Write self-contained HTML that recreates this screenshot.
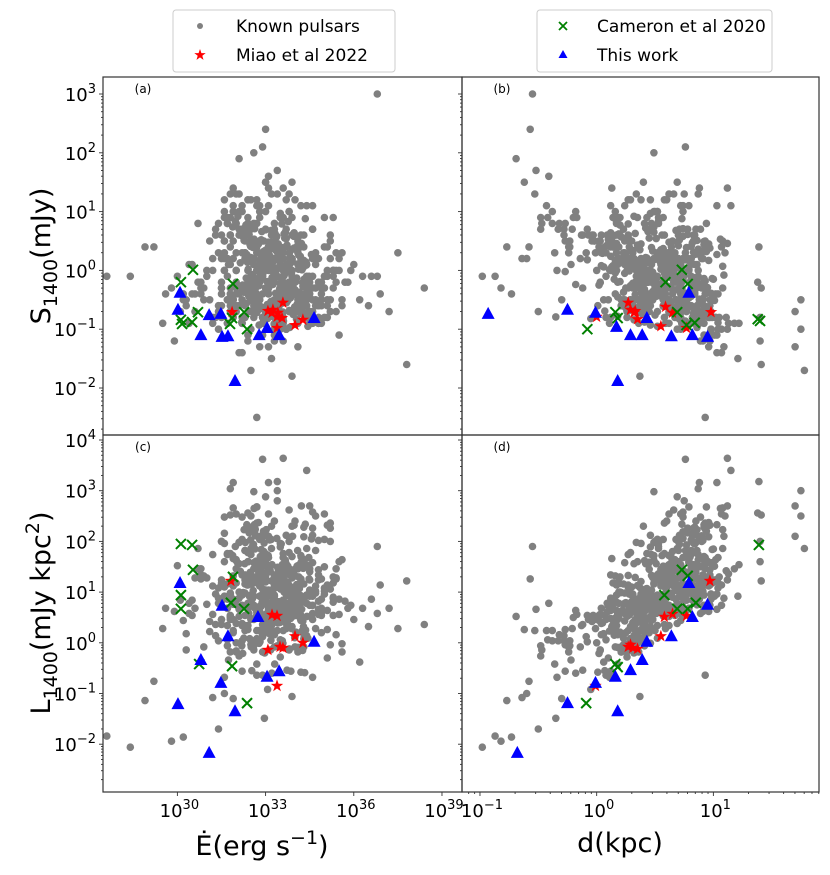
<!DOCTYPE html>
<html><head><meta charset="utf-8">
<style>
html,body{margin:0;padding:0;background:#fff;}
svg{display:block;font-family:"DejaVu Sans","Liberation Sans",sans-serif;}
</style></head>
<body>
<svg id="chart" width="830" height="875" viewBox="0 0 830 875" xmlns="http://www.w3.org/2000/svg">
  <g id="marks"></g>
  <g id="frames"></g>
  <g id="axes"></g>
  <text x="143" y="93" font-size="12" text-anchor="middle">(a)</text>
  <text x="502" y="93" font-size="12" text-anchor="middle">(b)</text>
  <text x="143" y="451" font-size="12" text-anchor="middle">(c)</text>
  <text x="502" y="451" font-size="12" text-anchor="middle">(d)</text>
  <text transform="translate(50,256) rotate(-90)" font-size="27" text-anchor="middle">S<tspan font-size="19" dy="7">1400</tspan><tspan dy="-7">(mJy)</tspan></text>
  <text transform="translate(50,613) rotate(-90)" font-size="27" text-anchor="middle">L<tspan font-size="19" dy="7">1400</tspan><tspan dy="-7">(mJy kpc</tspan><tspan font-size="19" dy="-11">2</tspan><tspan dy="11">)</tspan></text>
  <text x="262" y="855" font-size="27" text-anchor="middle">Ė(erg s<tspan font-size="19" dy="-11">−1</tspan><tspan dy="11">)</tspan></text>
  <text x="620" y="852" font-size="27" text-anchor="middle">d(kpc)</text>
  <g>
    <rect x="173" y="10" width="222" height="62" rx="3" fill="#fff" stroke="#ccc" stroke-width="1"/>
    <circle cx="200" cy="26" r="3" fill="#808080"/>
    <text x="236" y="32" font-size="17">Known pulsars</text>
    <path id="legstar" d="" fill="#ff0000"/>
    <text x="236" y="61" font-size="17">Miao et al 2022</text>
  </g>
  <g>
    <rect x="537" y="10" width="235" height="62" rx="3" fill="#fff" stroke="#ccc" stroke-width="1"/>
    <path d="M559,22 L567,30 M567,22 L559,30" stroke="#008000" stroke-width="1.8"/>
    <text x="597" y="32" font-size="17">Cameron et al 2020</text>
    <path d="M563,50 L567.5,58 L558.5,58 Z" fill="#0000ff"/>
    <text x="597" y="61" font-size="17">This work</text>
  </g>
</svg>
<script>
// ---- Known pulsars (log10 values), set 1 ----
const knownLogEdot = [
33.1,32.6,33.8,32.2,34.0,33.4,31.9,32.9,33.6,34.3,
32.4,33.0,33.9,32.7,31.7,34.6,33.2,32.1,33.5,34.1,
32.8,33.3,31.5,34.8,32.5,33.7,32.0,33.9,35.2,32.3,
33.5,32.9,34.2,31.8,33.1,32.6,34.5,33.0,30.9,32.8,
34.0,33.6,32.4,35.5,33.3,31.2,32.7,34.4,33.8,32.2,
33.2,34.7,32.9,30.5,33.4,32.5,35.0,33.7,31.6,34.2,
32.0,33.5,33.9,32.8,36.0,31.9,33.1,34.9,32.4,33.6,
30.2,32.7,34.1,33.3,32.2,35.8,33.0,31.4,34.6,32.9,
33.8,32.3,36.5,33.2,30.8,34.3,32.6,33.5,31.1,34.0,
32.5,33.7,29.8,34.8,33.0,32.1,35.3,33.4,31.7,32.8,
34.4,33.1,32.4,37.2,33.6,30.4,32.9,34.1,33.3,31.5,
32.7,35.6,33.9,32.0,33.2,34.5,31.3,33.0,36.8,32.6,
33.5,31.8,34.2,32.3,29.2,33.7,32.8,35.1,33.1,30.7,
34.0,32.5,33.4,31.0,36.2,32.9,33.8,31.9,34.7,32.2,
33.0,34.3,30.3,32.6,33.6,35.9,32.1,33.3,31.6,34.9,
28.4,33.2,32.4,34.6,33.9,31.2,32.7,37.8,33.5,32.0,
33.7,30.6,34.1,32.8,33.1,31.8,35.4,32.5,33.4,29.5,
32.3,34.4,33.0,31.4,36.6,32.9,33.6,30.1,34.2,32.6,
33.3,32.1,35.0,33.8,31.7,32.4,34.5,33.1,30.9,33.9,
27.6,33.4,32.8,34.0,31.3,33.2,35.7,32.2,33.7,31.0,
34.3,32.5,33.6,30.4,32.9,38.4,33.0,31.9,34.8,32.7,
33.1,31.5,34.6,32.3,33.8,29.9,32.0,35.2,33.4,31.2,
32.6,33.9,31.7,34.2,33.3,32.8,36.3,30.8,33.0,34.5,
33.6,32.2,30.2,33.1,34.7,32.9,31.4,33.7,35.5,32.4,
28.9,34.1,33.2,32.6,31.8,33.9,32.1,34.4,30.6,33.5,
32.8,33.0,34.9,31.6,33.4,32.3,36.9,33.8,31.1,32.7,
34.2,32.0,33.3,30.0,33.7,32.5,34.6,31.9,33.1,35.1,
32.9,31.3,33.6,34.0,32.4,29.6,33.2,32.7,34.3,31.7,
33.4,32.1,35.6,33.0,30.5,34.5,32.6,33.8,31.4,32.9,
33.1,34.8,32.3,31.8,33.5,37.5,32.8,30.3,33.9,32.5,
36.8,33.0,31.2,34.1,32.7,33.6,30.8,32.2,33.3,34.6,
32.4,33.7,31.5,32.9,34.2,33.1,35.3,32.0,30.7,33.4];
const knownLogS = [
-0.3,-0.6,0.1,-0.8,-0.2,0.4,-0.5,-0.9,0.2,-0.4,
0.0,-0.7,-0.1,0.3,-0.9,-0.5,0.6,-0.3,-0.8,0.1,
-0.5,0.2,-0.2,-0.6,0.5,-1.0,-0.4,0.0,-0.7,0.3,
-0.9,-0.1,0.4,-0.6,-0.3,0.8,-0.8,0.1,-0.5,-0.2,
0.6,-0.4,-1.1,0.0,-0.7,0.2,-0.5,-0.3,1.0,-0.9,
-0.2,-0.6,0.3,-0.4,-0.8,0.5,-0.1,-1.0,0.0,0.2,
-0.7,0.9,-0.3,-0.5,0.1,-0.8,0.4,-0.6,-0.2,-1.2,
-0.4,0.0,-0.9,0.6,-0.5,-0.2,-0.7,0.3,-0.1,-0.4,
0.2,-0.8,-0.6,1.3,-0.3,-0.5,0.1,-1.0,0.5,-0.7,
-0.1,0.4,-0.3,-0.9,0.7,-0.6,0.0,-0.4,0.2,-1.3,
-0.5,-0.2,0.8,-0.7,-0.4,0.1,-0.8,0.5,-1.1,-0.3,
0.0,-0.6,-0.2,0.3,-1.5,-0.4,0.6,-0.7,-0.1,0.2,
-0.8,0.1,-0.5,-0.3,0.4,-1.0,1.1,-0.6,0.0,-0.2,
-0.4,0.7,-0.9,-0.1,-0.5,0.3,-0.7,0.2,-0.3,-1.4,
1.5,-0.2,-0.6,0.5,-0.8,0.0,-0.4,-1.2,0.3,-0.5,
-0.1,-0.7,0.9,-0.3,0.2,-0.9,-0.5,-1.6,0.1,-0.6,
0.4,-0.4,-1.3,0.0,-0.8,0.6,-0.2,-0.5,1.7,-0.9,
-0.6,0.1,-0.3,0.8,-0.1,-1.1,0.3,-0.7,-0.4,0.5,
-0.2,1.9,-0.8,0.0,-0.5,0.2,-0.9,0.4,-0.3,-1.8,
-0.1,-0.6,0.1,-0.4,0.7,-0.7,-0.2,0.3,-1.0,0.0,
-0.5,0.5,-0.1,-0.9,2.1,-0.3,0.2,-0.6,-0.8,1.2,
0.1,-0.4,-0.7,0.6,-0.2,-1.2,0.0,-0.5,0.4,-0.8,
-0.3,0.2,0.9,-0.6,-1.0,0.5,-0.1,-0.4,0.3,-0.7,
0.0,-0.9,-0.5,1.4,-0.3,0.2,-0.6,0.7,-1.1,-0.2,
0.4,-0.5,0.1,-0.8,-0.3,0.6,-1.4,-0.1,-0.7,0.3,
-0.6,2.4,-0.2,0.0,-0.9,0.5,-0.4,0.1,-0.5,-2.5,
-0.7,-0.3,0.8,-0.1,-0.5,-1.0,0.2,1.0,-0.4,0.0,
0.3,-0.8,-0.2,0.6,-1.2,-0.4,0.0,-0.6,0.4,-0.9,
-0.1,0.7,-0.5,-0.3,0.1,-0.7,2.0,-0.2,-1.0,0.5,
1.6,-0.6,0.2,-0.4,-0.8,0.3,-0.1,-0.5,0.9,-1.7,
3.0,-0.3,0.0,-0.7,0.4,-0.9,-0.2,0.6,-0.5,1.1,
-0.4,0.1,-0.8,0.2,-0.6,-1.3,0.0,-0.2,0.8,-0.5];
const knownLogD = [
0.53,0.27,0.84,0.12,0.58,-0.23,0.91,0.36,0.74,1.02,
0.17,0.63,0.42,-0.36,0.79,0.48,0.04,0.93,0.26,0.68,
0.61,-0.14,0.33,0.97,-0.27,0.72,0.39,0.16,0.88,0.52,
0.76,0.45,0.07,0.57,0.31,-0.47,0.86,0.55,0.21,0.66,
-0.03,0.49,0.92,0.28,0.73,-0.64,0.37,1.08,-0.18,0.62,
0.43,0.81,0.23,0.47,0.99,0.13,0.59,0.69,-0.34,0.32,
0.94,-0.42,0.54,0.71,0.18,0.83,0.02,0.64,1.38,0.89,
-0.73,0.34,0.77,0.09,0.61,0.44,0.87,0.24,0.51,1.04,
0.19,0.67,0.46,-0.53,0.82,0.29,0.56,1.12,-0.04,0.41,
0.63,0.14,-0.82,0.86,-0.08,0.74,0.27,0.52,0.78,0.96,
0.32,0.47,-0.27,0.69,0.93,0.24,0.58,0.03,1.01,0.38,
0.79,0.21,0.44,-0.24,1.21,0.57,-0.12,0.87,0.34,0.49,
0.72,0.41,0.88,0.27,-0.58,0.98,-0.43,0.62,0.17,0.83,
0.48,-0.33,0.76,0.43,0.06,0.64,0.91,0.28,0.71,1.07,
-0.62,0.68,0.23,-0.02,0.82,0.37,0.54,0.97,0.31,0.57,
-0.98,0.52,-0.17,0.94,0.38,0.73,0.29,1.41,0.61,0.22,
0.36,0.84,1.09,0.46,0.88,-0.07,0.18,0.72,-0.52,0.59,
0.92,0.34,0.63,-0.38,0.48,1.03,0.08,0.77,0.42,-0.23,
0.57,-0.69,0.91,0.26,0.68,0.53,1.18,0.19,0.81,0.37,
-0.87,0.42,0.72,0.16,-0.28,0.87,0.51,0.04,0.98,0.64,
0.68,-0.02,0.47,0.84,0.76,0.33,0.59,0.86,1.02,0.58,
0.28,0.79,0.64,-0.13,0.41,0.91,0.73,0.23,1.39,0.96,
0.52,0.18,-0.48,0.69,1.07,0.02,0.39,0.83,0.62,0.87,
0.12,0.92,0.47,0.88,0.64,0.29,0.74,-0.21,0.98,0.43,
-0.77,0.58,0.33,0.86,1.41,-0.04,1.03,0.52,0.69,0.17,
0.42,-0.57,0.73,0.58,1.13,0.24,0.77,0.47,0.36,0.93,
0.97,0.53,-0.32,0.81,0.62,1.75,0.27,-0.38,0.72,0.13,
-0.09,0.88,0.43,0.17,1.4,0.54,0.61,0.31,-0.24,0.79,
0.73,-0.48,0.24,0.91,0.37,1.7,0.49,0.03,1.04,0.28,
-0.41,0.63,0.81,0.46,1.11,-0.01,0.67,0.34,0.19,1.78,
-0.55,0.38,0.87,0.62,0.12,1.22,0.83,-0.28,0.48,0.74,
0.59,0.32,1.4,0.68,0.01,1.7,0.44,0.92,0.53,1.75];

// ---- Known pulsars, set 2 (dense core) ----
const knownLogEdot2 = [
32.45,33.12,33.78,32.91,34.23,33.54,32.67,33.36,34.05,32.83,
33.27,32.58,33.91,34.41,32.36,33.05,33.63,32.74,34.12,33.48,
32.19,33.83,33.21,32.62,34.36,33.69,32.97,33.42,31.88,34.02,
33.15,32.51,33.97,32.88,33.31,34.18,32.27,33.74,33.02,32.69,
34.29,33.38,32.43,33.86,32.95,33.59,32.14,34.47,33.25,32.78,
33.66,32.39,34.08,33.19,32.85,33.51,34.33,32.57,33.93,33.08,
32.72,33.44,31.97,34.15,33.29,32.61,33.81,33.01,34.26,32.49,
33.57,32.93,33.35,32.24,34.04,33.72,32.81,33.47,32.06,33.89,
34.38,33.17,32.66,33.62,32.98,34.11,33.33,32.34,33.76,32.87,
33.04,34.21,32.53,33.41,33.95,32.76,34.44,33.23,32.63,33.68,
32.31,33.85,33.11,32.96,34.07,33.49,32.44,33.71,33.26,32.82,
33.99,32.59,34.31,33.14,32.71,33.55,32.92,34.19,33.37,32.22,
33.79,33.06,32.47,34.03,33.61,32.86,33.32,32.68,34.24,33.45,
32.55,33.92,33.18,32.38,33.73,34.35,32.99,33.53,32.75,33.09,
34.14,32.41,33.65,33.28,32.89,34.48,33.39,32.64,33.87,33.01,
32.77,33.46,34.01,32.29,33.58,33.13,32.94,34.27,33.82,32.52,
33.34,32.84,33.97,33.22,32.46,34.09,33.64,32.73,33.43,32.97,
31.74,33.08,34.56,32.35,33.77,33.16,32.58,33.94,34.22,32.81,
33.52,32.65,33.25,34.39,32.9,33.7,32.48,33.35,34.06,33.0,
32.6,33.88,33.2,32.79,34.3,33.47,32.37,33.63,33.11,32.95,
33.4,32.7,34.13,33.57,32.33,33.84,33.03,34.42,32.85,33.29,
32.54,33.73,33.15,32.9,34.0,33.5,32.64,33.81,33.24,32.42,
33.96,32.78,33.36,34.17,32.99,33.6,32.5,33.07,34.28,33.43,
32.82,33.67,32.26,33.9,33.19,34.1,32.7,33.55,33.31,32.88,
31.6,31.9,32.1,35.0,34.7,31.4,35.3,31.8,34.9,32.0];
const knownLogS2 = [
-0.12,0.34,-0.47,0.08,-0.66,0.21,-0.29,0.56,-0.83,-0.05,
0.43,-0.38,0.15,-0.72,0.27,-0.19,0.62,-0.54,0.02,-0.31,
-0.88,0.11,-0.24,0.49,-0.41,0.03,-0.63,0.29,0.74,-0.16,
0.19,-0.52,0.38,-0.09,-0.77,0.24,0.51,-0.35,0.07,-0.61,
-0.26,0.58,-0.44,-0.02,0.31,-0.71,0.13,-0.18,0.46,-0.93,
0.05,-0.33,-0.57,0.68,-0.14,0.22,-0.81,0.39,-0.27,0.11,
-0.49,0.17,0.84,-0.37,-0.06,0.53,-0.68,0.26,-0.21,0.41,
-0.74,0.32,-0.11,0.57,-0.42,-0.03,0.18,-0.59,0.92,-0.23,
0.14,-0.64,0.47,-0.28,0.06,-0.85,0.35,-0.13,-0.51,0.66,
-0.36,0.09,-0.69,0.23,-0.17,0.45,-0.95,0.12,0.71,-0.32,
0.28,-0.46,0.04,-0.79,0.37,-0.22,0.61,-0.55,0.16,-0.08,
-0.62,0.52,-0.15,0.25,-0.43,0.79,-0.04,-0.73,0.33,-0.25,
0.07,-0.58,0.44,-0.19,-0.86,0.19,0.63,-0.39,0.01,-0.67,
-0.07,0.36,-0.53,0.14,-0.3,0.88,-0.76,0.27,-0.2,0.48,
-0.45,0.02,0.55,-0.65,0.21,-0.1,-0.89,0.4,-0.34,0.13,
0.3,-0.6,-0.16,0.72,-0.48,0.06,0.5,-0.27,-0.97,0.18,
-0.39,0.26,0.64,-0.12,-0.7,0.42,-0.05,-0.5,0.35,-0.84,
0.1,-0.36,0.27,-0.56,0.83,-0.2,0.15,-0.75,0.46,-0.01,
-0.57,0.38,-0.24,0.09,-0.8,0.54,-0.31,0.2,-0.13,0.69,
-0.44,-0.04,0.48,-0.66,0.17,-0.35,0.6,-0.09,-0.58,0.31,
0.04,-0.72,0.26,-0.18,0.77,-0.47,0.12,-0.29,0.52,-0.91,
-0.21,0.43,-0.63,0.08,-0.33,0.97,-0.15,0.29,-0.52,0.16,
0.58,-0.26,0.0,-0.69,0.34,-0.4,0.22,-0.82,0.05,0.45,
-0.14,0.65,-0.37,0.18,-0.61,0.11,-0.23,0.39,-0.78,0.25,
0.2,-0.5,0.6,-0.3,0.3,-0.7,-0.1,0.9,-0.4,0.0];
const knownLogD2 = [
0.52,0.31,0.78,0.14,0.66,0.43,0.95,0.27,0.71,0.58,
0.09,0.84,0.36,0.62,1.03,0.47,0.19,0.88,0.55,0.73,
0.41,0.67,-0.18,0.92,0.33,0.59,0.76,0.05,0.49,0.81,
0.63,0.22,0.97,0.44,0.69,0.12,0.86,0.38,1.08,0.57,
0.29,0.74,0.51,-0.27,0.83,0.35,0.64,0.93,0.17,0.46,
0.79,0.54,0.24,0.68,0.99,0.42,0.11,0.77,0.61,0.34,
0.88,0.16,0.53,0.72,0.45,1.06,0.28,0.65,0.03,0.81,
0.39,0.94,0.6,0.21,0.75,0.48,-0.08,0.87,0.32,0.56,
0.7,0.25,0.82,0.5,0.13,0.9,0.37,0.67,1.01,0.44,
0.58,0.8,0.07,0.63,0.35,0.96,0.52,0.19,0.74,0.41,
0.85,0.47,0.69,-0.35,0.57,0.31,0.78,0.6,0.23,1.09,
0.36,0.71,0.15,0.89,0.54,0.27,0.66,0.83,0.48,0.02,
0.64,0.4,0.92,0.2,0.76,0.55,0.33,0.98,0.11,0.7,
0.47,0.87,0.29,0.59,-0.12,0.73,0.5,0.84,0.38,0.62,
0.18,0.79,0.45,0.95,0.3,0.68,1.04,0.14,0.57,0.81,
0.53,0.26,0.74,0.42,0.91,0.06,0.65,0.35,0.86,0.49,
0.77,0.6,0.12,0.83,0.39,0.7,0.24,0.97,0.55,0.32,
-0.22,0.48,0.89,0.63,0.17,0.8,0.44,0.67,1.12,0.28,
0.59,0.93,0.37,0.72,0.08,0.51,0.85,0.22,0.64,0.45,
0.81,0.16,0.69,0.34,0.96,0.58,0.27,0.75,0.43,0.9,
0.31,0.66,0.52,0.86,0.2,0.79,0.4,0.61,0.1,0.73,
0.57,0.35,0.82,0.04,0.68,0.46,1.0,0.25,0.77,0.54,
0.14,0.88,0.41,0.63,0.3,0.84,0.56,-0.05,0.71,0.38,
0.92,0.49,0.23,0.76,0.6,0.33,0.87,0.47,0.18,0.65,
-0.6,-0.3,0.2,0.9,1.1,-0.5,0.7,-0.2,0.5,0.0];

// ---- Known pulsars, set 3 (outer core) ----
const knownLogEdot3 = [
31.6,34.8,32.2,35.1,31.9,34.6,32.5,33.3,35.4,31.8,
34.9,32.0,33.8,31.7,35.2,32.8,34.4,31.5,33.6,35.0,
32.3,34.7,31.9,33.1,35.3,32.6,34.2,31.6,33.9,35.6,
32.1,34.5,31.8,33.4,35.1,32.4,34.8,31.7,33.0,34.3,
31.5,35.0,32.7,34.1,31.9,33.7,35.4,32.2,34.6,31.6,
33.2,34.9,32.0,35.2,31.8,33.5,34.4,32.5,35.5,31.7,
34.0,32.9,31.6,35.1,33.8,32.3,34.7,31.9,33.3,35.3,
32.6,34.2,31.5,33.6,35.0,32.1,34.5,31.8,33.0,34.8,
31.7,35.2,32.4,34.3,31.6,33.9,35.4,32.8,34.1,31.9,
33.4,34.6,32.2,35.1,31.8,33.1,34.9,32.7,35.3,31.5];
const knownLogS3 = [
0.9,-0.2,1.1,0.4,-0.5,0.7,1.2,-0.8,0.3,0.6,
-0.9,0.8,1.3,-0.1,0.5,1.0,-0.6,0.2,1.4,-0.3,
0.7,0.1,-0.7,1.1,0.9,-0.4,0.6,1.2,-0.2,0.3,
1.0,-0.8,0.4,1.3,-0.1,0.8,0.2,-0.5,1.5,0.6,
-0.3,0.9,1.1,-0.6,0.5,1.2,0.0,0.7,-0.9,1.0,
0.4,-0.2,1.3,0.6,-0.7,0.9,1.1,-0.4,0.2,0.8,
1.2,-0.1,0.5,-0.8,1.0,0.3,-0.5,1.4,0.7,-0.3,
0.1,1.1,-0.6,0.9,0.4,1.3,-0.2,0.6,1.0,-0.9,
0.8,0.2,1.2,-0.4,0.5,1.5,-0.7,0.9,0.3,1.1,
-0.1,0.7,1.0,-0.5,1.3,0.4,-0.3,0.8,0.0,0.6];
const knownLogD3 = [
0.35,0.82,0.12,0.96,0.48,0.71,0.27,1.05,0.58,0.19,
0.88,0.41,0.66,0.08,0.93,0.52,0.77,0.31,1.12,0.63,
0.23,0.86,0.45,0.72,0.14,0.99,0.56,0.38,0.81,0.67,
0.49,1.02,0.28,0.75,0.6,0.17,0.91,0.42,0.69,0.84,
0.33,0.57,0.79,0.21,1.08,0.46,0.64,0.89,0.11,0.74,
0.95,0.37,0.62,0.83,0.26,0.53,1.15,0.44,0.7,0.18,
0.6,0.87,0.3,0.97,0.5,0.76,0.39,0.13,0.85,0.55,
0.68,0.24,0.92,0.43,1.07,0.34,0.8,0.58,0.16,0.73,
0.47,0.9,0.29,0.65,0.83,0.4,0.98,0.2,0.61,1.03,
0.36,0.78,0.52,0.1,0.87,0.64,0.25,0.94,0.45,0.7];

// ---- Panel (a): log Edot vs log S ----
const thisWorkA_E = [30.09,30.02,31.08,31.48,30.80,31.52,31.72,31.96,32.78,33.05,33.46,34.65];
const thisWorkA_S = [-0.38,-0.67,-0.76,-0.74,-1.10,-1.13,-1.12,-1.88,-1.10,-0.98,-1.10,-0.81];
const cameronA_E = [30.53,30.12,31.89,30.70,32.27,30.12,30.16,30.50,31.86,31.79,32.37];
const cameronA_S = [0.01,-0.20,-0.23,-0.71,-0.71,-0.84,-0.91,-0.88,-0.81,-0.91,-1.00];
const miaoA_E = [31.86,33.08,33.25,33.59,33.42,33.56,33.39,33.22,34.27,34.00,33.39];
const miaoA_S = [-0.71,-0.69,-0.67,-0.55,-0.72,-0.81,-0.79,-0.72,-0.84,-0.93,-0.98];
// ---- Panel (b): log d vs log S ----
const thisWorkB_D = [-0.25,-0.01,0.17,0.29,0.39,0.43,0.64,0.79,0.82,0.95,0.18,-0.93];
const thisWorkB_S = [-0.67,-0.72,-0.96,-1.10,-1.10,-0.81,-1.12,-0.38,-1.10,-1.13,-1.88,-0.74];
const cameronB_D = [0.73,0.59,0.78,0.16,0.18,0.69,-0.08,0.77,0.84,1.38,1.40];
const cameronB_S = [0.01,-0.20,-0.23,-0.71,-0.81,-0.71,-1.00,-0.93,-0.89,-0.83,-0.86];
const miaoB_D = [0.27,0.29,0.33,0.35,0.00,0.59,0.65,0.55,0.77,0.98,0.32];
const miaoB_S = [-0.55,-0.67,-0.69,-0.83,-0.79,-0.62,-0.72,-0.95,-0.98,-0.71,-0.72];
// ---- Panel (c): log Edot vs log L ----
const thisWorkC_E = [30.09,31.52,32.74,31.72,34.65,30.80,33.46,33.05,31.48,30.02,31.96,31.08];
const thisWorkC_L = [1.18,0.73,0.51,0.13,0.02,-0.34,-0.56,-0.67,-0.79,-1.21,-1.35,-2.17];
const cameronC_E = [30.12,30.50,30.53,31.89,30.12,30.12,31.82,32.27,30.74,31.86,32.37];
const cameronC_L = [1.95,1.93,1.44,1.30,0.94,0.67,0.79,0.67,-0.42,-0.46,-1.19];
const miaoC_E = [31.82,33.22,33.39,34.00,34.27,33.49,33.08,33.59,33.39];
const miaoC_L = [1.22,0.55,0.53,0.13,0.00,-0.08,-0.14,-0.10,-0.85];
// ---- Panel (d): log d vs log L ----
const thisWorkD_D = [0.79,0.95,0.82,0.64,0.43,0.39,0.29,0.16,-0.01,-0.25,0.18,-0.68];
const thisWorkD_L = [1.18,0.75,0.51,0.13,0.02,-0.34,-0.54,-0.67,-0.79,-1.19,-1.35,-2.17];
const cameronD_D = [0.73,0.78,0.58,0.69,0.78,0.85,0.16,0.18,-0.09,1.39];
const cameronD_L = [1.44,1.32,0.94,0.67,0.67,0.79,-0.42,-0.48,-1.19,1.93];
const miaoD_D = [0.97,0.58,0.65,0.77,0.55,0.27,0.31,0.35,0.29,-0.01];
const miaoD_L = [1.22,0.51,0.57,0.53,0.13,-0.08,-0.10,-0.12,-0.04,-0.85];

// tick labels
const edotTickExps = [30,33,36,39];
const distTickExps = [-1,0,1];
const sTickExps = [-2,-1,0,1,2,3];
const lTickExps = [-2,-1,0,1,2,3,4];

const NS = 'http://www.w3.org/2000/svg';
const L = {x0:103, x1:462, x2:819, yT:77, yM:435, yB:792};
const xE = v => 103 + (v - 27.47) * 29.4;
const xD = v => 462 + (v + 1.154) * 116.7;
const yS = v => 94 + (3 - v) * 58.8;
const yL = v => 440 + (4 - v) * 50.7;

const marks = document.getElementById('marks');
const axes = document.getElementById('axes');
const frames = document.getElementById('frames');

function el(tag, attrs, parent){
  const e = document.createElementNS(NS, tag);
  for (const k in attrs) e.setAttribute(k, attrs[k]);
  parent.appendChild(e);
  return e;
}
function starPath(cx, cy, R){
  const r = R * 0.4; let d = '';
  for (let i = 0; i < 10; i++){
    const a = -Math.PI/2 + i*Math.PI/5, rr = i%2 ? r : R;
    d += (i ? 'L' : 'M') + (cx + rr*Math.cos(a)).toFixed(1) + ',' + (cy + rr*Math.sin(a)).toFixed(1);
  }
  return d + 'Z';
}
document.getElementById('legstar').setAttribute('d', starPath(200, 55, 6));

const panels = [
  {id:'a', clip:[L.x0,L.yT,L.x1-L.x0,L.yM-L.yT]},
  {id:'b', clip:[L.x1,L.yT,L.x2-L.x1,L.yM-L.yT]},
  {id:'c', clip:[L.x0,L.yM,L.x1-L.x0,L.yB-L.yM]},
  {id:'d', clip:[L.x1,L.yM,L.x2-L.x1,L.yB-L.yM]}
];
const defs = el('defs', {}, marks);
const groups = {};
panels.forEach(p => {
  const cp = el('clipPath', {id:'clip-'+p.id}, defs);
  el('rect', {x:p.clip[0], y:p.clip[1], width:p.clip[2], height:p.clip[3]}, cp);
  const g = el('g', {'clip-path':'url(#clip-'+p.id+')'}, marks);
  
  
  groups[p.id] = g;
  const fr = el('rect', {x:p.clip[0], y:p.clip[1], width:p.clip[2], height:p.clip[3], fill:'none', stroke:'#333', 'stroke-width':1.2}, frames);
  
  
});

function drawKnown(E, S, D){
  for (let i = 0; i < E.length; i++){
    const logL = S[i] + 2*D[i];
    const pts = [['a', xE(E[i]), yS(S[i])], ['b', xD(D[i]), yS(S[i])],
                 ['c', xE(E[i]), yL(logL)], ['d', xD(D[i]), yL(logL)]];
    pts.forEach(p => {
      const c = el('circle', {cx:p[1].toFixed(1), cy:p[2].toFixed(1), r:3.8, fill:'#808080'}, groups[p[0]]);
      
      
    });
  }
}
drawKnown(knownLogEdot, knownLogS, knownLogD);
drawKnown(knownLogEdot2, knownLogS2, knownLogD2);
drawKnown(knownLogEdot3, knownLogS3, knownLogD3);

function drawMiao(g, xs, ys, fx, fy){
  for (let i = 0; i < xs.length; i++){
    const s = el('path', {d:starPath(fx(xs[i]), fy(ys[i]), 6.5), fill:'#ff0000'}, g);
    
    
  }
}
function drawCameron(g, xs, ys, fx, fy){
  for (let i = 0; i < xs.length; i++){
    const x = fx(xs[i]), y = fy(ys[i]), h = 5;
    const p = el('path', {d:`M${x-h},${y-h}L${x+h},${y+h}M${x+h},${y-h}L${x-h},${y+h}`, stroke:'#008000', 'stroke-width':2, fill:'none'}, g);
    
    
  }
}
function drawThis(g, xs, ys, fx, fy){
  for (let i = 0; i < xs.length; i++){
    const x = fx(xs[i]), y = fy(ys[i]);
    const p = el('path', {d:`M${x},${y-7}L${x+6.5},${y+5}L${x-6.5},${y+5}Z`, fill:'#0000ff'}, g);
    
    
  }
}
drawMiao(groups.a, miaoA_E, miaoA_S, xE, yS);
drawCameron(groups.a, cameronA_E, cameronA_S, xE, yS);
drawThis(groups.a, thisWorkA_E, thisWorkA_S, xE, yS);
drawMiao(groups.b, miaoB_D, miaoB_S, xD, yS);
drawCameron(groups.b, cameronB_D, cameronB_S, xD, yS);
drawThis(groups.b, thisWorkB_D, thisWorkB_S, xD, yS);
drawMiao(groups.c, miaoC_E, miaoC_L, xE, yL);
drawCameron(groups.c, cameronC_E, cameronC_L, xE, yL);
drawThis(groups.c, thisWorkC_E, thisWorkC_L, xE, yL);
drawMiao(groups.d, miaoD_D, miaoD_L, xD, yL);
drawCameron(groups.d, cameronD_D, cameronD_L, xD, yL);
drawThis(groups.d, thisWorkD_D, thisWorkD_L, xD, yL);

// axes ticks
function line(x1,y1,x2,y2){ return el('line', {x1,y1,x2,y2, stroke:'#333', 'stroke-width':0.9}, axes); }
function powLabel(x, y, exp, anchor, name){
  const t = el('text', {x, y, 'font-size':18, 'text-anchor':anchor}, axes);
  
  
  t.appendChild(document.createTextNode('10'));
  const s = el('tspan', {'font-size':13, dy:-8}, t);
  s.textContent = String(exp).replace('-', '−');
}
function yAxis(fy, exps, lo, hi, top, bot, isTop){
  for (let dec = Math.floor(lo); dec <= Math.ceil(hi); dec++){
    for (let m = 1; m < 10; m++){
      const y = fy(dec + Math.log10(m));
      if (y < top || y > bot) continue;
      const len = m === 1 ? 4 : 2;
      line(L.x0 - len, y, L.x0, y);
      line(L.x1 - len, y, L.x1, y);
    }
  }
  exps.forEach(e => { const y = fy(e); if (y >= top-1 && y <= bot+1) powLabel(L.x0 - 7, y + 7, e, 'end', (isTop ? 'y-tick-label-s-' : 'y-tick-label-l-') + e); });
}
yAxis(yS, sTickExps, -3, 3.3, L.yT, L.yM, true);
yAxis(yL, lTickExps, -3, 4.2, L.yM, L.yB, false);
edotTickExps.forEach(e => { const x = xE(e); line(x, L.yB, x, L.yB + 4); powLabel(x + 2, L.yB + 25, e, 'middle', 'x-tick-label-edot-' + e); });
for (let dec = -2; dec <= 1; dec++){
  for (let m = 1; m < 10; m++){
    const x = xD(dec + Math.log10(m));
    if (x < L.x1 || x > L.x2) continue;
    line(x, L.yB, x, L.yB + (m === 1 ? 4 : 2));
  }
}
distTickExps.forEach(e => { const x = xD(e); powLabel(x + 2, L.yB + 25, e, 'middle', 'x-tick-label-d-' + e); });
</script>
</body></html>
